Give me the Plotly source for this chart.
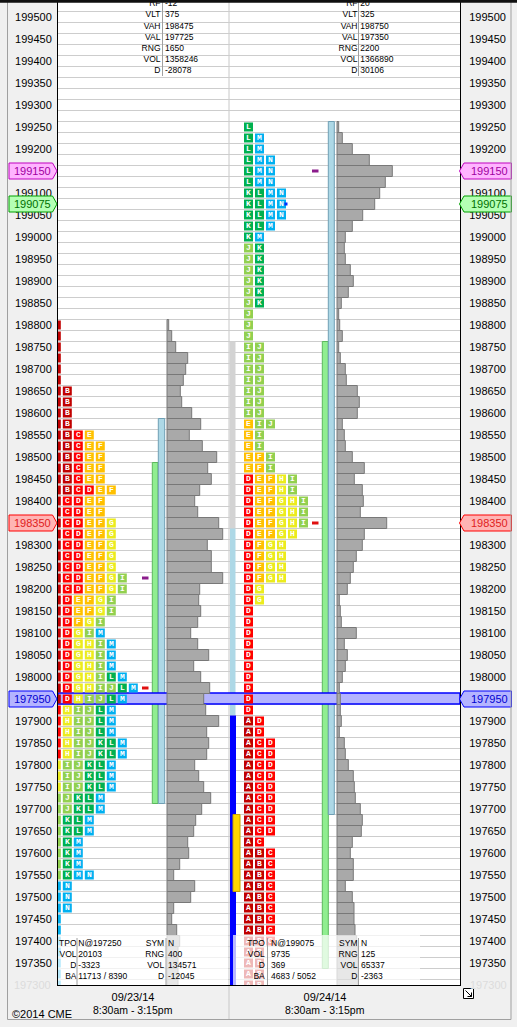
import plotly.graph_objects as go

# ---------------------------------------------------------------- data
# Two CME market-profile sessions, one TPO row every 25 points.
row_step = 25
left_rows = list(range(198800, 197275, -row_step))    # 09/23/14
right_rows = list(range(199250, 197275, -row_step))   # 09/24/14

# visible TPO letters per row (left to right)
left_letters = (
    [""] * 6 + ["B"] * 4 + ["BCE"] + ["BCEF"] * 4 + ["BCDEF"] + ["CDEF"] * 2
    + ["CDEFG"] * 5 + ["CDEFGI"] * 2 + ["DEFGI"] * 2 + ["DFGI", "DGIM"]
    + ["DGHIM"] * 3 + ["DGHILM", "DGHIJLM", "DHIJLM"] + ["HIJLM"] * 3
    + ["HIJKLM"] * 2 + ["IJKLM"] * 3 + ["JKLM"] * 2 + ["KLM"] * 2 + ["KM"] * 3
    + ["KMN"] + ["N"] * 3 + [""] * 7
)
# first letter column of the 09/23 profile, scrolled behind the left border
left_cut = ["A"] * 35 + ["D"] * 5 + ["H"] * 3 + ["I"] * 2 + ["J"] * 6 + ["M"] * 3 + ["N"] * 7

right_letters = (
    ["L"] + ["LM"] * 2 + ["LMN"] * 3 + ["KLMN"] * 3 + ["KLM", "KM"] + ["JK"] * 6
    + ["J"] * 3 + ["IJ"] * 7 + ["EIJ"] + ["EI"] * 2 + ["EFI"] * 2 + ["DEFHI"] * 2
    + ["DEFGHI"] * 3 + ["DEFGH"] + ["DFGH"] * 4 + ["DG"] * 2 + ["D"] * 10
    + ["AD"] * 2 + ["ACD"] * 9 + ["AC"] + ["ABC"] * 9 + ["AB"] * 4
)

# volume at price (histogram length, chart units)
left_volume = [
    1.7, 4.7, 8.7, 20.7, 18.7, 16.3, 13.3, 14.7, 24.7, 33.7, 22.3, 35.3, 49.7,
    40.7, 44.3, 32.7, 27.7, 30.7, 51.7, 55.7, 40.3, 44.3, 44.3, 55.7, 32.7, 31.7,
    33.7, 30.7, 23.7, 30.7, 41.7, 26.7, 33.7, 42.7, 36.7, 38.7, 51.7, 39.7, 41.7,
    39.7, 27.7, 31.7, 36.7, 43.7, 34.7, 28.7, 26.7, 20.7, 21.7, 12.7, 6.7, 27.7,
    23.7, 6.7, 4.7, 9.7, 12.7, 11, 11, 11, 11,
]
right_volume = [
    1.7, 5.3, 15.3, 32.3, 55.3, 48.3, 42.7, 37.7, 25.7, 15.3, 8.3, 7.3, 8.3, 13.3,
    16.3, 11.3, 4.3, 1.7, 2.7, 5.3, 1.7, 3.3, 8.3, 9.3, 20.3, 22.3, 20.3, 5.3, 7.3,
    8.3, 15.3, 27.3, 17.3, 25.3, 26.3, 23.3, 49.7, 27.3, 25.3, 19.3, 16.3, 13.3,
    10.3, 2.3, 3.3, 4.3, 19.3, 7.3, 10.3, 8.3, 5.3, 2.3, 3.3, 3.3, 4.3, 2.3, 7.3,
    8.3, 11.3, 16.3, 17.3, 18.3, 23.3, 25.3, 24.3, 15.3, 13.3, 16.3, 16.3, 8.3,
    15.3, 17, 17, 18, 19.7, 21, 21, 21, 21,
]

period_colors = {
    "A": "#c00000", "B": "#c00000", "C": "#ff0000", "D": "#ff0000",
    "E": "#ffc000", "F": "#ffc000", "G": "#ebeb1e", "H": "#ebeb1e",
    "I": "#92d050", "J": "#92d050", "K": "#00b050", "L": "#00b050",
    "M": "#00b0f0", "N": "#00b0f0",
}

stat_names = ["RF", "VLT", "VAH", "VAL", "RNG", "VOL", "D"]
left_stats = ["-12", "375", "198475", "197725", "1650", "1358246", "-28078"]
right_stats = ["20", "325", "198750", "197350", "2200", "1366890", "30106"]

foot_names_a = ["TPO", "VOL", "D", "BA"]
foot_names_b = ["SYM", "RNG", "VOL", "D"]
left_foot_a = ["N@197250", "20103", "-3323", "11713 / 8390"]
left_foot_b = ["N", "400", "134571", "-12045"]
right_foot_a = ["N@199075", "9735", "369", "4683 / 5052"]
right_foot_b = ["N", "125", "65337", "-2363"]

# value area (VAL, VAH) and the light blue range bars
left_va = (197725, 198475)
right_va = (197350, 198750)
left_range = (197725, 198575)
right_range = (197700, 199250)
# period bars next to the 09/24 profile: (low, high, fill)
right_period_bars = [
    (198350, 198750, "#d3d3d3"),
    (197925, 198325, "#add8e6"),
    (197200, 197900, "#0000ff"),
    (197525, 197675, "#ffd700"),
]

# highlighted price labels: price, fill, border, text colour
highlights = [
    (199150, "#ffb4ff", "#c000c0", "#a000a0"),
    (199075, "#b4ffb4", "#00a000", "#007000"),
    (198350, "#ffb4b4", "#ff0000", "#e02020"),
    (197950, "#b4b4ff", "#0000ff", "#0000d0"),
]
band_price = 197950
# small arrows: session, price, colour
arrow_marks = [("L", 198225, "#8b1c8b"), ("L", 197975, "#e01010"),
               ("R", 199150, "#8b1c8b"), ("R", 198350, "#e01010")]
dates = ["09/23/14", "09/24/14"]
hours = "8:30am - 3:15pm"

# ---------------------------------------------------------------- geometry
W, H = 517, 1027
PL, PR, PT, PB = 58, 460, 0, 985
ROW_PX = 11
Y_TOP = 199500 + (17 - PT) / ROW_PX * row_step
Y_BOT = 199500 - (PB - 17) / ROW_PX * row_step
HALF = row_step / 2
SESSION_MID = [133, 325]


def fx(px):
    return (px - PL) / (PR - PL)


def fy(py):
    return (PB - py) / (PB - PT)


def y_at(py):
    return Y_TOP - (py - PT) / ROW_PX * row_step


LEFT_COL0, RIGHT_COL0, COL_W = 56.3, 237.5, 11
FONT = "Liberation Sans, Arial, sans-serif"

fig = go.Figure()

# volume histograms
for rows, vol, base in [(left_rows, left_volume, 167), (right_rows, right_volume, 337)]:
    fig.add_trace(go.Bar(
        y=rows, x=vol, base=base, orientation="h", width=row_step,
        marker=dict(color="#a9a9a9", line=dict(color="#787878", width=1)),
        hoverinfo="skip",
    ))

# TPO letter boxes
for rows, letters, col0, cut in [
    (left_rows, left_letters, LEFT_COL0, left_cut),
    (right_rows, right_letters, RIGHT_COL0, None),
]:
    xs, ys, cs, ts = [], [], [], []
    for i, price in enumerate(rows):
        if cut is not None:
            xs.append(col0)
            ys.append(price)
            cs.append(period_colors[cut[i]])
            ts.append("")
        for k, ch in enumerate(letters[i], start=1):
            xs.append(col0 + k * COL_W)
            ys.append(price)
            cs.append(period_colors[ch])
            ts.append(ch)
    fig.add_trace(go.Scatter(
        x=xs, y=ys, mode="markers+text", text=ts, textposition="middle center",
        marker=dict(symbol="square", size=9, color=cs, line=dict(width=0)),
        textfont=dict(family="Liberation Mono, monospace", size=8, color="white",
                      weight="bold"),
        hoverinfo="skip",
    ))

# small arrows and the blue tick
for side, price, color in arrow_marks:
    x0 = 142 if side == "L" else 312
    fig.add_trace(go.Scatter(x=[x0, x0 + 6.5], y=[price, price], mode="lines",
                             line=dict(color=color, width=3), hoverinfo="skip"))
fig.add_trace(go.Scatter(x=[286], y=[199075], mode="markers",
                         marker=dict(symbol="square", size=3, color="#0030ff"),
                         hoverinfo="skip"))

# faded footer boxes
for x0, x1 in [(58, 228), (233, 420)]:
    fig.add_trace(go.Scatter(
        x=[x0, x1, x1, x0, x0], y=[y_at(935)] * 2 + [y_at(PB)] * 2 + [y_at(935)],
        mode="lines", fill="toself", fillcolor="rgba(255,255,255,0.72)",
        line=dict(width=0), hoverinfo="skip",
    ))


def text_trace(x, pys, labels, pos):
    fig.add_trace(go.Scatter(
        x=[x] * len(labels), y=[y_at(p) for p in pys], text=labels, mode="text",
        textposition=pos, textfont=dict(family=FONT, size=8.5, color="black"),
        hoverinfo="skip",
    ))


stat_py = [4.3, 15.3, 26.5, 37.7, 48.7, 60, 71]
text_trace(160.5, stat_py, stat_names, "middle left")
text_trace(165, stat_py, left_stats, "middle right")
text_trace(357.5, stat_py, stat_names, "middle left")
text_trace(360.3, stat_py, right_stats, "middle right")

foot_py = [944, 955.3, 966.3, 977.3]
text_trace(76.5, foot_py, foot_names_a, "middle left")
text_trace(78.3, foot_py, left_foot_a, "middle right")
text_trace(164.2, foot_py, foot_names_b, "middle left")
text_trace(168, foot_py, left_foot_b, "middle right")
text_trace(264.8, foot_py, foot_names_a, "middle left")
text_trace(271, foot_py, right_foot_a, "middle right")
text_trace(357.5, foot_py, foot_names_b, "middle left")
text_trace(361, foot_py, right_foot_b, "middle right")

shapes = []


def vbar(x0, x1, lo, hi, fill, edge=None, layer="between"):
    shapes.append(dict(type="rect", xref="x", yref="y", x0=x0, x1=x1,
                       y0=lo - HALF, y1=hi + HALF, fillcolor=fill, layer=layer,
                       line=dict(color=edge or fill, width=1 if edge else 0)))


vbar(152.3, 158, *left_va, "#90ee90", "#5cb85c")
vbar(158.3, 164.7, *left_range, "#add8e6", "#6f9fb4")
vbar(322.3, 328.3, *right_va, "#90ee90", "#5cb85c")
vbar(328.3, 334.3, *right_range, "#add8e6", "#6f9fb4")
slots = [(229.5, 235.5), (230, 235.5), (230, 236), (233, 240)]
for (lo, hi, fill), (x0, x1) in zip(right_period_bars, slots):
    vbar(x0, x1, lo, hi, fill, "#c8a000" if fill == "#ffd700" else None)

# blue band at 197950
shapes.append(dict(type="rect", xref="x", yref="y", x0=PL, x1=PR,
                   y0=band_price - HALF + 1, y1=band_price + HALF + 1,
                   fillcolor="#b4b4ff", line=dict(color="#0000ff", width=1.5),
                   layer="between"))

# session divider
shapes.append(dict(type="line", xref="paper", yref="paper", x0=fx(229), x1=fx(229),
                   y0=fy(1019), y1=1, line=dict(color="#c8c8c8", width=1),
                   layer="below"))

# stat separators
for x, top, bot in [(162.5, 0, 76), (358.5, 0, 76), (77, 938, PB), (166, 938, PB),
                    (267.5, 938, PB), (358.5, 938, PB)]:
    shapes.append(dict(type="line", xref="paper", yref="paper", x0=fx(x), x1=fx(x),
                       y0=fy(bot), y1=fy(top), line=dict(color="#a0a0a0", width=1)))

# highlighted price tags
h8 = 8 / ROW_PX * row_step
for price, fill, edge, _ in highlights:
    a, b, tip = fx(9), fx(52.5), fx(57)
    shapes.append(dict(
        type="path", xref="paper", yref="y", fillcolor=fill, layer="above",
        line=dict(color=edge, width=1),
        path=f"M {a},{price + h8} L {b},{price + h8} L {tip},{price} "
             f"L {b},{price - h8} L {a},{price - h8} Z"))
    a, b, tip = fx(511.5), fx(464), fx(459.5)
    shapes.append(dict(
        type="path", xref="paper", yref="y", fillcolor=fill, layer="above",
        line=dict(color=edge, width=1),
        path=f"M {a},{price + h8} L {b},{price + h8} L {tip},{price} "
             f"L {b},{price - h8} L {a},{price - h8} Z"))

# window frame, top edge, resize glyph
shapes.append(dict(type="rect", xref="paper", yref="paper", x0=fx(7.5), x1=fx(511),
                   y0=fy(1019.5), y1=fy(-2), line=dict(color="#a0a0a0", width=1)))
shapes.append(dict(type="rect", xref="paper", yref="paper", x0=fx(0), x1=fx(W),
                   y0=fy(2.7), y1=fy(-1), fillcolor="#101010", line=dict(width=0),
                   layer="above"))
shapes.append(dict(type="rect", xref="paper", yref="paper", x0=fx(463.5), x1=fx(473.5),
                   y0=fy(998.5), y1=fy(988.5), fillcolor="white",
                   line=dict(color="black", width=1)))
shapes.append(dict(type="path", xref="paper", yref="paper", line=dict(color="black", width=1),
                   path=f"M {fx(465.5)},{fy(990.5)} L {fx(471.5)},{fy(996.5)} "
                        f"M {fx(467.5)},{fy(996.5)} L {fx(471.5)},{fy(996.5)} "
                        f"L {fx(471.5)},{fy(992.5)}"))

annotations = []
for price, fill, edge, txt in highlights:
    annotations.append(dict(xref="paper", yref="y", x=fx(52.5), y=price, text=str(price),
                            xanchor="right", yanchor="middle", showarrow=False,
                            font=dict(family=FONT, size=11, color=txt)))
    annotations.append(dict(xref="paper", yref="y", x=fx(468.5), y=price, text=str(price),
                            xanchor="left", yanchor="middle", showarrow=False,
                            font=dict(family=FONT, size=11, color=txt)))
for x, anchor in [(53, "right"), (468, "left")]:
    annotations.append(dict(xref="paper", yref="paper", x=fx(x), y=fy(PB), text="197300",
                            xanchor=anchor, yanchor="middle", showarrow=False,
                            font=dict(family=FONT, size=11, color="#dcdcdc")))
for mid in SESSION_MID:
    annotations.append(dict(xref="x", yref="paper", x=mid, y=fy(1010), text=hours,
                            xanchor="center", yanchor="middle", showarrow=False,
                            font=dict(family=FONT, size=10.5, color="black")))
annotations.append(dict(xref="paper", yref="paper", x=fx(9.5), y=fy(1014), text="©2014 CME",
                        xanchor="left", yanchor="middle", showarrow=False,
                        font=dict(family=FONT, size=11, color="black")))

skip = {p for p, *_ in highlights}
tick_vals = [p for p in range(197350, 199501, 50) if p not in skip]
tick_text = [str(p) for p in tick_vals]
axis_font = dict(family=FONT, size=11, color="black")

fig.update_layout(
    width=W, height=H, margin=dict(l=PL, r=W - PR, t=PT, b=H - PB, pad=0),
    paper_bgcolor="#f0f0f0", plot_bgcolor="white", showlegend=False,
    barmode="overlay", font=dict(family=FONT),
    shapes=shapes, annotations=annotations,
    xaxis=dict(range=[PL, PR], showgrid=False, zeroline=False, showline=True,
               linecolor="black", linewidth=1, ticks="", automargin=False,
               tickvals=SESSION_MID, ticktext=dates,
               tickfont=axis_font, ticklabelstandoff=2),
    yaxis=dict(range=[Y_BOT, Y_TOP], tickvals=tick_vals, ticktext=tick_text,
               ticks="", showgrid=False, automargin=False,
               zeroline=False, showline=True, linecolor="black", linewidth=1,
               tickfont=axis_font, ticklabelstandoff=3,
               minor=dict(tickmode="array",
                          tickvals=[p + HALF for p in range(197275, 199551, row_step)],
                          showgrid=True, gridcolor="#cdcdcd", gridwidth=1, ticks="")),
    yaxis2=dict(range=[Y_BOT, Y_TOP], overlaying="y", side="right", tickvals=tick_vals,
                ticktext=tick_text, ticks="", showgrid=False, zeroline=False,
                showline=True, automargin=False,
                linecolor="black", linewidth=1, tickfont=axis_font,
                ticklabelstandoff=6),
)
# an empty trace keeps the right axis alive
fig.add_trace(go.Scatter(x=[PL], y=[Y_BOT], yaxis="y2", mode="markers",
                         marker=dict(size=0, opacity=0), hoverinfo="skip"))

# the page body has a default 8px margin; drop it so the chart sits at 0,0
fig.write_html("out.html", config={"displayModeBar": False},
               post_script="document.body.style.margin = '0px';")
